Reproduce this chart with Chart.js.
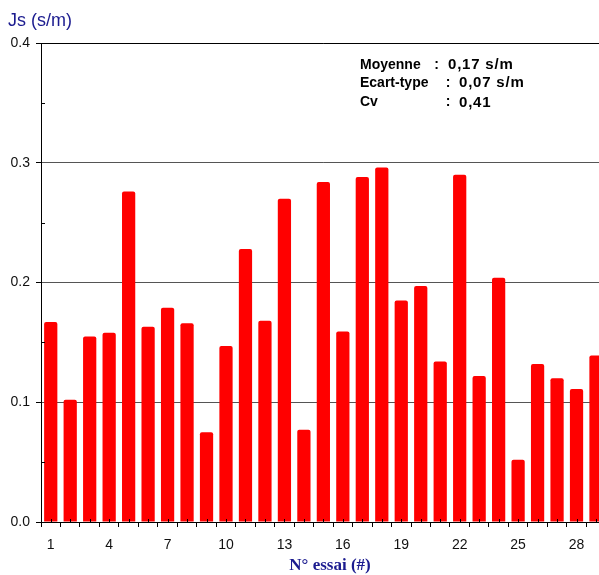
<!DOCTYPE html>
<html>
<head>
<meta charset="utf-8">
<script src="https://cdn.jsdelivr.net/npm/chart.js@4.4.1/dist/chart.umd.min.js"></script>
<style>
  html, body { margin: 0; padding: 0; background: #fff; overflow: hidden; }
  #wrap { position: relative; width: 599px; height: 575px; overflow: hidden; }
  canvas { display: block; }
</style>
</head>
<body>
<div id="wrap"><canvas id="chart" width="606" height="575"></canvas></div>
<script>
// Data
const essais = ['1','2','3','4','5','6','7','8','9','10','11','12','13','14','15',
                '16','17','18','19','20','21','22','23','24','25','26','27','28','29'];
const jsValues = [0.167, 0.102, 0.155, 0.158, 0.276, 0.163, 0.179, 0.166, 0.075, 0.147,
                  0.228, 0.168, 0.270, 0.077, 0.284, 0.159, 0.288, 0.296, 0.185, 0.197,
                  0.134, 0.290, 0.122, 0.204, 0.052, 0.132, 0.120, 0.111, 0.139];
const shownTicks = ['1','4','7','10','13','16','19','22','25','28'];
const minorYTicks = [0.05, 0.15, 0.25, 0.35];

const statLabels = ['Moyenne', 'Ecart-type', 'Cv'];
const statValues = ['0,17 s/m', '0,07 s/m', '0,41'];

const yTitle = 'Js (s/m)';
const xTitle = 'N° essai (#)';
const NAVY = '#1b1b8f';

Chart.defaults.font.family = "'Liberation Sans', Arial, sans-serif";
Chart.defaults.font.size = 14;
Chart.defaults.color = '#111';

// Minor ticks + titles + stats box
const decorations = {
  id: 'decorations',
  afterDatasetsDraw(chart) {
    const { ctx, chartArea, scales: { x, y } } = chart;
    ctx.save();
    ctx.strokeStyle = '#000';
    ctx.lineWidth = 1;
    ctx.beginPath();
    minorYTicks.forEach(v => {
      const py = Math.round(y.getPixelForValue(v)) + 0.5;
      ctx.moveTo(chartArea.left, py);
      ctx.lineTo(chartArea.left + 4, py);
    });
    essais.forEach((c, i) => {
      const px = Math.round(x.getPixelForValue(i)) + 0.5;
      ctx.moveTo(px, chartArea.bottom);
      ctx.lineTo(px, chartArea.bottom - 3);
    });
    ctx.stroke();
    ctx.restore();
  },
  afterDraw(chart) {
    const ctx = chart.ctx;
    ctx.save();
    // axis titles
    ctx.fillStyle = NAVY;
    ctx.font = "18px 'Liberation Sans', Arial, sans-serif";
    ctx.textBaseline = 'alphabetic';
    ctx.textAlign = 'left';
    ctx.fillText(yTitle, 8, 25.5);
    ctx.font = "bold 17px 'Liberation Serif', 'Times New Roman', serif";
    ctx.textAlign = 'center';
    ctx.fillText(xTitle, 330, 569.5);

    // stats
    ctx.fillStyle = '#000';
    ctx.textBaseline = 'middle';
    const rowsY = [65, 83, 102.5];
    const colonX = [436.5, 448, 448];
    const valueX = [448, 459, 459];
    statLabels.forEach((lab, i) => {
      ctx.font = "bold 14px 'Liberation Sans', Arial, sans-serif";
      ctx.letterSpacing = '0px';
      ctx.textAlign = 'left';
      ctx.fillText(lab, 360, rowsY[i]);
      ctx.textAlign = 'center';
      ctx.fillText(':', colonX[i], rowsY[i]);
      ctx.textAlign = 'left';
      ctx.font = "bold 15px 'Liberation Sans', Arial, sans-serif";
      ctx.letterSpacing = '0.8px';
      ctx.fillText(statValues[i], valueX[i], rowsY[i]);
    });
    ctx.restore();
  }
};

new Chart(document.getElementById('chart'), {
  type: 'bar',
  data: {
    labels: essais,
    datasets: [{
      data: jsValues,
      backgroundColor: '#ff0000',
      borderWidth: 0,
      borderRadius: 2,
      borderSkipped: 'bottom',
      categoryPercentage: 1,
      barPercentage: 0.68
    }]
  },
  options: {
    responsive: false,
    animation: false,
    layout: { padding: { top: 43, left: 0, right: 0, bottom: 0 } },
    plugins: { legend: { display: false }, tooltip: { enabled: false }, title: { display: false } },
    scales: {
      x: {
        offset: true,
        grid: { offset: true, drawOnChartArea: false, drawTicks: true, tickLength: 5, tickColor: '#000' },
        border: { color: '#000', width: 1 },
        ticks: {
          autoSkip: false, maxRotation: 0, padding: 10, color: '#111',
          callback: function (val) {
            const lab = this.getLabelForValue(val);
            return shownTicks.includes(lab) ? lab : '';
          }
        },
        afterFit: s => { s.height = 53; }
      },
      y: {
        min: 0, max: 0.4,
        grid: {
          color: ctx => (ctx.tick && ctx.tick.value >= 0.4 ? '#000' : '#555'),
          tickColor: '#000', tickLength: 5, drawTicks: true
        },
        border: { color: '#000', width: 1 },
        ticks: { stepSize: 0.1, padding: 6, color: '#111', callback: v => v.toFixed(1) },
        afterFit: s => { s.width = 41; }
      }
    }
  },
  plugins: [decorations]
});
</script>
</body>
</html>
